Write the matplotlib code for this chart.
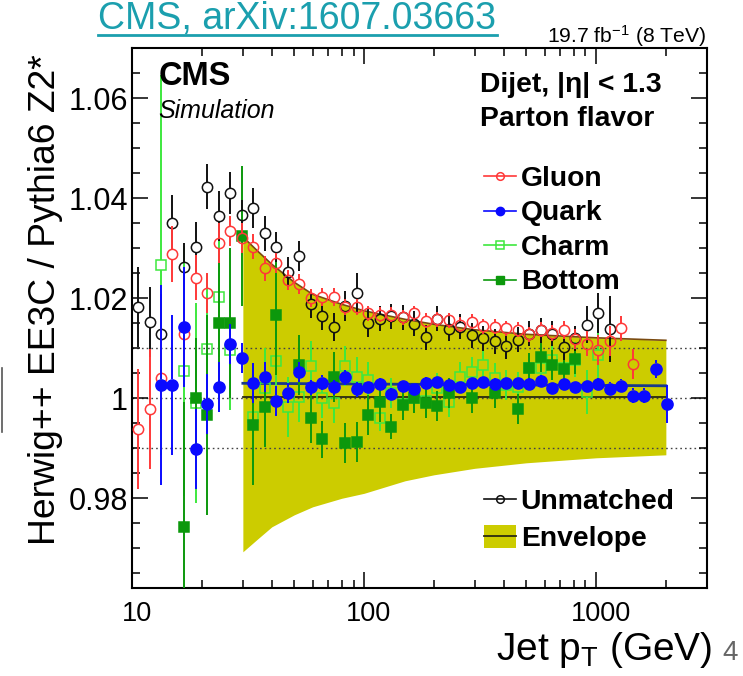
import numpy as np
import matplotlib
matplotlib.use("Agg")
import matplotlib.pyplot as plt
import matplotlib.ticker as mticker
from matplotlib.lines import Line2D
from matplotlib.patches import Patch
from matplotlib.transforms import ScaledTranslation

plt.rcParams['font.family'] = ['Liberation Sans', 'DejaVu Sans']
plt.rcParams['mathtext.fontset'] = 'custom'
plt.rcParams['mathtext.rm'] = 'Liberation Sans'
plt.rcParams['mathtext.it'] = 'Liberation Sans:italic'
plt.rcParams['mathtext.bf'] = 'Liberation Sans:bold'

nan = np.nan

# jet pT bin centres (GeV)
pt = [10.6, 11.9, 13.3, 14.9, 16.7, 18.8, 21.0, 23.6, 26.4, 29.6,
      33.2, 37.2, 41.7, 46.8, 52.5, 58.8, 65.9, 73.9, 82.8, 92.8,
      104, 117, 131, 147, 164, 184, 207, 232, 260, 291,
      326, 366, 410, 459, 515, 577, 647, 725, 813, 912,
      1022, 1146, 1284, 1440, 1614, 1809, 2028]

gluon = [0.9938, 0.9978, 1.0040, 1.0289, 1.0129, 1.0241, 1.0210, 1.0311, 1.0335, 1.0320,
         1.0303, 1.0260, 1.0270, 1.0237, 1.0228, 1.0200, 1.0203, 1.0203, 1.0183, 1.0182,
         1.0170, 1.0167, 1.0167, 1.0162, 1.0170, 1.0155, 1.0158, 1.0156, 1.0147, 1.0153,
         1.0144, 1.0143, 1.0140, 1.0137, 1.0128, 1.0137, 1.0130, 1.0137, 1.0119, 1.0109,
         1.0096, 1.0115, 1.0140, 1.0069, nan, nan, nan]
gluon_err = [0.012, 0.012, 0.010, 0.0056, 0.006, 0.0045, 0.004, 0.004, 0.003, 0.003,
             0.0025, 0.0025, 0.002, 0.002, 0.002, 0.0018, 0.0018, 0.0018, 0.0016, 0.0016,
             0.0015, 0.0015, 0.0015, 0.0015, 0.0015, 0.0015, 0.0015, 0.0015, 0.0015, 0.0015,
             0.0015, 0.0015, 0.0015, 0.0015, 0.0015, 0.0015, 0.0016, 0.0018, 0.002, 0.0025,
             0.003, 0.003, 0.0025, 0.003, nan, nan, nan]

quark = [nan, nan, 1.0027, 1.0027, 1.0142, 0.9899, 0.9988, 1.0022, 1.0108, 1.0080,
         1.0031, 1.0043, 0.9995, 1.0011, 1.0052, 1.0022, 1.0031, 1.0022, 1.0042, 1.0018,
         1.0023, 1.0028, 1.0008, 1.0025, 1.0019, 1.0030, 1.0033, 1.0027, 1.0023, 1.0031,
         1.0033, 1.0028, 1.0031, 1.0031, 1.0028, 1.0034, 1.0021, 1.0029, 1.0023, 1.0025,
         1.0028, 1.0019, 1.0025, 1.0005, 1.0005, 1.0059, 0.9989]
quark_err = [nan, nan, 0.020, 0.014, 0.012, 0.008, 0.006, 0.005, 0.004, 0.003,
             0.004, 0.003, 0.003, 0.002, 0.002, 0.0015, 0.0015, 0.0015, 0.0015, 0.0015,
             0.0012, 0.0012, 0.0012, 0.0012, 0.0012, 0.0012, 0.0012, 0.0012, 0.0012, 0.0012,
             0.0012, 0.0012, 0.0012, 0.0012, 0.0012, 0.0012, 0.0012, 0.0012, 0.0012, 0.0012,
             0.0012, 0.0013, 0.0013, 0.0015, 0.0015, 0.0018, 0.0038]

charm = [nan, nan, 1.0267, nan, 1.0055, 0.9990, 1.0098, 1.0202, 1.0097, nan,
         0.9963, 1.0020, 1.0075, 0.9983, 1.0003, 1.0065, 1.0001, 0.9990, 1.0065, 1.0043,
         1.0037, 0.9960, 1.0010, 0.9989, 1.0000, 0.9995, 1.0020, 0.9993, 1.0043, 1.0052,
         1.0067, 1.0040, 1.0027, 1.0023, 1.0060, 1.0060, 1.0077, 1.0060, 1.0077, 1.0013,
         1.0087, nan, nan, nan, nan, nan, nan]
charm_err = [nan, nan, 0.038, nan, 0.025, 0.020, 0.015, 0.012, 0.012, nan,
             0.010, 0.008, 0.008, 0.006, 0.005, 0.005, 0.004, 0.004, 0.004, 0.004,
             0.0035, 0.0025, 0.003, 0.003, 0.003, 0.003, 0.003, 0.003, 0.003, 0.003,
             0.003, 0.003, 0.003, 0.003, 0.003, 0.003, 0.003, 0.003, 0.0035, 0.0044,
             0.0066, nan, nan, nan, nan, nan, nan]

bottom = [nan, nan, nan, nan, 0.9743, 1.0001, 0.9967, 1.0151, 1.0151, 1.0325,
          0.9947, 0.9983, 1.0167, nan, 1.0067, 0.9960, 0.9918, 1.0043, 0.9910, 0.9912,
          0.9967, 0.9993, 0.9943, 0.9987, 1.0001, 0.9990, 0.9985, 1.0010, nan, 1.0000,
          nan, 1.0010, nan, 0.9978, 1.0060, 1.0082, 1.0066, 1.0058, 1.0078, nan,
          nan, nan, nan, nan, nan, nan, nan]
bottom_err = [nan, nan, nan, nan, 0.025, 0.012, 0.020, 0.015, 0.015, 0.014,
              0.012, 0.008, 0.012, nan, 0.006, 0.005, 0.0037, 0.005, 0.004, 0.004,
              0.004, 0.004, 0.0025, 0.003, 0.003, 0.003, 0.003, 0.003, nan, 0.003,
              nan, 0.003, nan, 0.003, 0.003, 0.003, 0.003, 0.003, 0.003, nan,
              nan, nan, nan, nan, nan, nan, nan]

unmatched = [1.0183, 1.0153, 1.0128, 1.0351, 1.0263, 1.0302, 1.0423, 1.0365, 1.0410, 1.0367,
             1.0380, 1.0330, 1.0302, 1.0253, 1.0285, 1.0189, 1.0165, 1.0143, 1.0185, 1.0210,
             1.0150, 1.0159, 1.0164, 1.0162, 1.0149, 1.0122, 1.0159, 1.0139, 1.0143, 1.0126,
             1.0120, 1.0114, 1.0104, 1.0117, 1.0129, 1.0136, 1.0129, 1.0102, 1.0120, 1.0147,
             1.0170, 1.0138, nan, nan, nan, nan, nan]
unmatched_err = [0.008, 0.007, 0.008, 0.0055, 0.0047, 0.005, 0.0045, 0.005, 0.0042, 0.003,
                 0.004, 0.0035, 0.003, 0.003, 0.003, 0.0028, 0.0028, 0.0028, 0.003, 0.004,
                 0.0028, 0.0025, 0.0025, 0.0025, 0.0025, 0.0025, 0.0025, 0.0025, 0.0025, 0.0025,
                 0.0025, 0.0025, 0.0025, 0.0025, 0.0025, 0.0025, 0.0025, 0.0025, 0.0025, 0.0037,
                 0.004, 0.0066, nan, nan, nan, nan, nan]

# flavour-uncertainty envelope and fitted curves
env_pt = [30, 35, 40, 50, 60, 80, 100, 150, 200, 300, 500, 1000, 2000]
env_hi = [1.0323, 1.0293, 1.0268, 1.0232, 1.0208, 1.0188, 1.0175, 1.0158, 1.0148, 1.0137,
          1.0128, 1.0121, 1.0116]
env_lo = [0.9693, 0.9720, 0.9743, 0.9767, 0.9783, 0.9800, 0.9810, 0.9835, 0.9847, 0.9860,
          0.9871, 0.9881, 0.9887]
env_mid_pt = [30, 2000]
env_mid = [1.0003, 1.0003]
quark_fit = [1.0030, 1.0025]

ref_lines = [0.99, 1.0, 1.01]

YMIN, YMAX = 0.962, 1.070
DPI = 100
W, H = 743, 676

fig = plt.figure(figsize=(W / DPI, H / DPI), dpi=DPI)
ax_l, ax_r, ax_t, ax_b = 132.2, 706.7, 48.3, 588.3
ax = fig.add_axes([ax_l / W, 1 - ax_b / H, (ax_r - ax_l) / W, (ax_b - ax_t) / H])
ax.set_xscale('log')
ax.set_xlim(10, 3000)
ax.set_ylim(YMIN, YMAX)

ppu = (ax_b - ax_t) / (YMAX - YMIN)   # pixels per unit of ratio

band_col = '#cccc00'
ax.fill_between(env_pt, env_lo, env_hi, color=band_col, lw=0, zorder=1)
ax.plot(env_pt, env_hi, color='#7a4a10', lw=1.2, zorder=1.5)
ax.plot(env_mid_pt, env_mid, color='#2a2a10', lw=1.3, zorder=1.5)
ax.plot(env_mid_pt, quark_fit, color='#1a3a8a', lw=2.0, zorder=1.6)

for yv in ref_lines:
    ax.axhline(yv, color='#444444', lw=1.0, ls=(0, (1.2, 2.2)), zorder=1.4)


def series(y, e, color, marker, filled, ms, z, ecolor=None):
    x = np.asarray(pt, float)
    y = np.asarray(y, float)
    e = np.asarray(e, float)
    m = np.isfinite(y)
    x, y, e = x[m], y[m], e[m]
    r = (ms * DPI / 72.0 / 2.0) / ppu
    ec = ecolor or color
    up = e > r
    ax.vlines(x[up], y[up] + r, y[up] + e[up], colors=ec, lw=1.4, zorder=z)
    ax.vlines(x[up], y[up] - e[up], y[up] - r, colors=ec, lw=1.4, zorder=z)
    ax.plot(x, y, ls='none', marker=marker, ms=ms,
            mfc=color if filled else 'none', mec=color, mew=1.1, zorder=z + 0.1)


c_gluon, c_quark, c_charm, c_bottom, c_unm = '#ff3838', '#0a0aff', '#3ee83e', '#0c980c', '#111111'
series(charm, charm_err, c_charm, 's', False, 7.0, 3)
series(bottom, bottom_err, c_bottom, 's', True, 6.5, 3.3)
series(unmatched, unmatched_err, c_unm, 'o', False, 7.4, 3.6)
series(gluon, gluon_err, c_gluon, 'o', False, 7.4, 3.9)
series(quark, quark_err, c_quark, 'o', True, 8.0, 4.2)

# axes styling
for sp in ax.spines.values():
    sp.set_linewidth(1.5)
ax.xaxis.set_major_locator(mticker.FixedLocator([10, 100, 1000]))
ax.xaxis.set_major_formatter(mticker.FixedFormatter(['10', '100', '1000']))
ax.xaxis.set_minor_locator(mticker.LogLocator(base=10, subs=np.arange(2, 10)))
ax.xaxis.set_minor_formatter(mticker.NullFormatter())
ax.yaxis.set_major_locator(mticker.MultipleLocator(0.02))
ax.yaxis.set_minor_locator(mticker.MultipleLocator(0.005))
ax.yaxis.set_major_formatter(mticker.FuncFormatter(lambda v, p: '%g' % round(v, 4)))
ax.tick_params(which='both', direction='in', top=True, right=True, width=1.1)
ax.tick_params(which='major', length=11.5)
ax.tick_params(which='minor', length=5.8)
ax.tick_params(axis='x', which='major', labelsize=19.5, pad=9)
ax.tick_params(axis='y', which='major', labelsize=22, pad=3)
shift = ScaledTranslation(4.5 / DPI, 0, fig.dpi_scale_trans)
for lab in ax.get_xticklabels():
    lab.set_transform(lab.get_transform() + shift)

# titles and annotations
link_col = '#1b9fae'
fig.text(98 / W, 1 - 29 / H, 'CMS, arXiv:1607.03663', color=link_col, fontsize=27.0, va='baseline')
fig.add_artist(Line2D([98 / W, 497 / W], [1 - 35 / H] * 2, color=link_col, lw=2.0))
fig.text(706 / W, 1 - 43 / H, r'19.7 fb$^{\mathregular{-1}}$ (8 TeV)', fontsize=15.2,
         ha='right', va='baseline')
fig.text(159 / W, 1 - 85 / H, 'CMS', fontsize=23.5, fontweight='bold', va='baseline')
fig.text(158 / W, 1 - 118 / H, 'Simulation', fontsize=18, style='italic', va='baseline')
fig.text(480 / W, 1 - 92 / H, 'Dijet, |η| < 1.3', fontsize=20.3, fontweight='bold', va='baseline')
fig.text(480 / W, 1 - 126 / H, 'Parton flavor', fontsize=20.3, fontweight='bold', va='baseline')

fig.text(46 / W, 1 - 54 / H, 'Herwig++ EE3C / Pythia6 Z2*', fontsize=26.8, rotation=90,
         ha='center', va='top')
fig.text(712 / W, 1 - 660 / H, r'Jet p$_{\mathregular{T}}$ (GeV)', fontsize=28, ha='right',
         va='baseline')
fig.text(722 / W, 1 - 660 / H, '4', fontsize=20, color='#666666', va='baseline')
fig.add_artist(Line2D([2 / W, 2 / W], [1 - 368 / H, 1 - 432 / H], color='#555555', lw=1.2))

# legends
leg_font = {'weight': 'bold', 'size': 20.3}
h1 = [Line2D([], [], color=c_gluon, lw=1.2, marker='o', ms=5.5, mfc='none', mec=c_gluon, mew=1.1),
      Line2D([], [], color=c_quark, lw=1.2, marker='o', ms=6.0, mfc=c_quark, mec=c_quark),
      Line2D([], [], color=c_charm, lw=1.2, marker='s', ms=5.5, mfc='none', mec=c_charm, mew=1.1),
      Line2D([], [], color=c_bottom, lw=1.2, marker='s', ms=5.5, mfc=c_bottom, mec=c_bottom)]
leg1 = ax.legend(h1, ['Gluon', 'Quark', 'Charm', 'Bottom'], loc='upper left',
                 bbox_to_anchor=(484 / W, 1 - 166 / H), bbox_transform=fig.transFigure,
                 frameon=False, prop=leg_font, handlelength=1.15, handletextpad=0.15,
                 labelspacing=0.30, borderpad=0, borderaxespad=0)
ax.add_artist(leg1)
h2 = [Line2D([], [], color=c_unm, lw=1.2, marker='o', ms=5.5, mfc='none', mec=c_unm, mew=1.1),
      (Patch(facecolor=band_col, edgecolor='none'), Line2D([], [], color='#2a2a10', lw=1.3))]
leg2 = ax.legend(h2, ['Unmatched', 'Envelope'], loc='upper left',
                 bbox_to_anchor=(484 / W, 1 - 488 / H), bbox_transform=fig.transFigure,
                 frameon=False, prop=leg_font, handlelength=1.15, handletextpad=0.15,
                 handleheight=0.86, labelspacing=0.355, borderpad=0, borderaxespad=0)

fig.savefig('out.png', dpi=DPI)
